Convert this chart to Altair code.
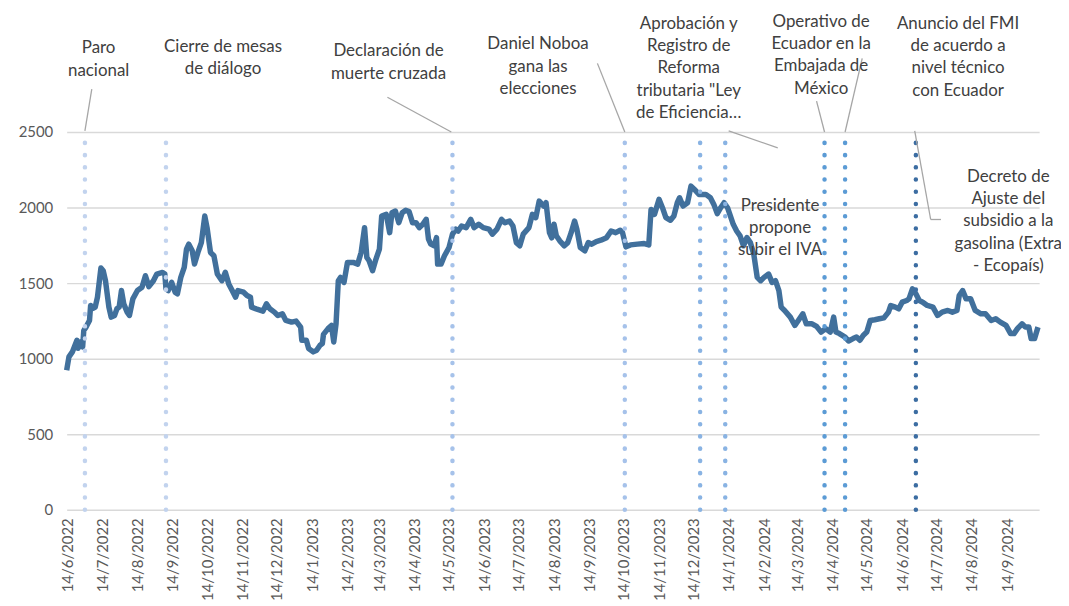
import altair as alt
import pandas as pd

# ---- data ----
START = "2022-06-14"
DAYS = [-1, 1, 4, 8, 9, 11, 13, 14, 16, 19, 20, 22, 24, 26, 29, 31, 33, 36, 38, 41, 43, 45, 47, 49, 52, 54, 57, 61, 65, 68,
        71, 75, 78, 83, 85, 86, 88, 91, 94, 96, 99, 102, 104, 106, 109, 111, 114, 117, 120, 122, 125, 128, 131, 135, 138,
        141, 144, 147, 149, 154, 157, 160, 161, 165, 171, 174, 177, 181, 184, 188, 191, 196, 200, 204, 205, 209, 211, 215,
        218, 221, 223, 224, 228, 231, 233, 235, 237, 239, 242, 245, 250, 254, 257, 260, 262, 264, 267, 270, 273, 275, 279,
        282, 284, 287, 290, 293, 296, 299, 302, 305, 308, 311, 314, 316, 318, 321, 323, 324, 327, 330, 334, 337, 340, 342,
        345, 349, 353, 356, 360, 364, 369, 372, 376, 380, 383, 387, 390, 393, 396, 399, 404, 407, 410, 413, 417, 419, 422,
        424, 426, 428, 431, 435, 438, 441, 444, 446, 449, 453, 456, 459, 463, 467, 472, 476, 480, 484, 486, 489, 493, 499,
        505, 509, 511, 514, 518, 521, 524, 528, 531, 534, 536, 539, 543, 546, 549, 553, 559, 563, 566, 569, 572, 575, 578,
        581, 583, 586, 589, 592, 595, 598, 601, 604, 607, 610, 614, 617, 620, 623, 625, 628, 633, 637, 640, 644, 647, 652,
        656, 660, 664, 668, 671, 673, 676, 681, 684, 688, 691, 694, 697, 700, 703, 707, 711, 715, 719, 721, 725, 728, 731,
        735, 737, 740, 743, 746, 749, 753, 758, 762, 766, 771, 775, 779, 781, 784, 787, 791, 795, 800, 804, 809, 813, 817,
        822, 826, 829, 832, 836, 839, 842, 844, 847, 850]
PRICE = [924, 1012, 1045, 1122, 1069, 1110, 1078, 1187, 1209, 1253, 1352, 1332, 1341, 1407, 1600, 1582, 1516, 1341, 1275,
         1286, 1330, 1341, 1451, 1363, 1308, 1286, 1396, 1451, 1473, 1549, 1477, 1516, 1560, 1571, 1560, 1462, 1451, 1505,
         1440, 1429, 1538, 1604, 1725, 1758, 1714, 1626, 1703, 1768, 1944, 1867, 1703, 1681, 1560, 1516, 1571, 1495, 1451,
         1407, 1451, 1440, 1418, 1407, 1341, 1330, 1315, 1363, 1330, 1308, 1286, 1297, 1253, 1242, 1249, 1209, 1122, 1122,
         1067, 1045, 1056, 1089, 1100, 1161, 1199, 1220, 1111, 1231, 1516, 1538, 1505, 1637, 1637, 1626, 1703, 1867, 1670,
         1648, 1582, 1659, 1725, 1944, 1955, 1834, 1966, 1977, 1900, 1966, 1982, 1973, 1900, 1900, 1867, 1889, 1922, 1791,
         1758, 1747, 1801, 1626, 1626, 1681, 1736, 1824, 1857, 1845, 1878, 1867, 1922, 1867, 1889, 1867, 1857, 1824, 1857,
         1922, 1900, 1911, 1878, 1768, 1747, 1824, 1867, 1955, 1933, 2043, 2010, 2032, 1834, 1800, 1890, 1813, 1780, 1747,
         1768, 1834, 1911, 1857, 1736, 1714, 1768, 1758, 1775, 1784, 1801, 1845, 1834, 1850, 1834, 1740, 1753, 1758, 1762,
         1753, 1988, 1955, 2054, 1999, 1933, 1916, 1944, 2032, 2065, 2010, 2032, 2142, 2120, 2087, 2087, 2065, 2021, 1960,
         1999, 2032, 1999, 1933, 1889, 1845, 1813, 1747, 1801, 1768, 1692, 1538, 1516, 1538, 1560, 1505, 1516, 1451, 1341,
         1319, 1275, 1220, 1253, 1297, 1231, 1231, 1214, 1176, 1199, 1176, 1275, 1176, 1166, 1143, 1117, 1133, 1143, 1122,
         1155, 1176, 1253, 1258, 1264, 1270, 1308, 1352, 1341, 1330, 1374, 1385, 1396, 1462, 1429, 1385, 1374, 1352, 1341,
         1286, 1308, 1319, 1308, 1319, 1418, 1451, 1396, 1396, 1319, 1297, 1297, 1253, 1264, 1242, 1220, 1166, 1166, 1199,
         1231, 1209, 1209, 1133, 1133, 1209]

TICK_LABELS = ["14/6/2022", "14/7/2022", "14/8/2022", "14/9/2022", "14/10/2022", "14/11/2022", "14/12/2022",
               "14/1/2023", "14/2/2023", "14/3/2023", "14/4/2023", "14/5/2023", "14/6/2023", "14/7/2023",
               "14/8/2023", "14/9/2023", "14/10/2023", "14/11/2023", "14/12/2023", "14/1/2024", "14/2/2024",
               "14/3/2024", "14/4/2024", "14/5/2024", "14/6/2024", "14/7/2024", "14/8/2024", "14/9/2024"]
Y_TICKS = [0, 500, 1000, 1500, 2000, 2500]

EVENT_DATES = ["2022-06-29", "2022-09-08", "2023-05-17", "2023-10-15", "2023-12-20", "2024-01-11",
               "2024-04-07", "2024-04-25", "2024-06-26"]
EVENT_COLORS = ["#C2D3EE", "#C2D3EE", "#A6C2EA", "#A6C2EA", "#89B3E3", "#89B3E3",
                "#5B9BD5", "#5B9BD5", "#3C6DA2"]

ANN_TEXT = ["Paro\nnacional", "Cierre de mesas\nde diálogo", "Declaración de\nmuerte cruzada",
            "Daniel Noboa\ngana las\nelecciones",
            "Aprobación y\nRegistro de\nReforma\ntributaria \"Ley\nde Eficiencia…",
            "Operativo de\nEcuador en la\nEmbajada de\nMéxico",
            "Anuncio del FMI\nde acuerdo a\nnivel técnico\ncon Ecuador",
            "Presidente\npropone\nsubir el IVA",
            "Decreto de\nAjuste del\nsubsidio a la\ngasolina (Extra\n- Ecopaís)"]
ANN_DATE = ["2022-07-11", "2022-10-28", "2023-03-22", "2023-07-31", "2023-12-10", "2024-04-04",
            "2024-08-02", "2024-02-28", "2024-09-15"]
ANN_TOP = [3105, 3118, 3086, 3132, 3270, 3283, 3270, 2066, 2257]

LEAD_X1 = ["2022-07-05", "2023-03-21", "2023-09-21", "2024-01-14", "2024-03-31", "2024-05-10", "2024-06-25", "2024-07-09"]
LEAD_Y1 = [2783, 2730, 2954, 2507, 2704, 2987, 2507, 1921]
LEAD_X2 = ["2022-06-29", "2023-05-16", "2023-10-15", "2024-02-26", "2024-04-07", "2024-04-25", "2024-07-09", "2024-07-18"]
LEAD_Y2 = [2507, 2500, 2500, 2395, 2500, 2500, 1921, 1921]

# ---- tables ----
series = pd.DataFrame({
    "date": pd.Timestamp(START) + pd.to_timedelta(DAYS, unit="D"),
    "value": PRICE,
})
events = pd.DataFrame({"date": pd.to_datetime(EVENT_DATES), "color": EVENT_COLORS})
notes = pd.DataFrame({"date": pd.to_datetime(ANN_DATE), "top": ANN_TOP, "label": ANN_TEXT})
leads = pd.DataFrame({"date": pd.to_datetime(LEAD_X1), "y1": LEAD_Y1,
                      "x2": pd.to_datetime(LEAD_X2), "y2": LEAD_Y2})

tick_values = []
for t in TICK_LABELS:
    d, m, y = (int(p) for p in t.split("/"))
    tick_values.append(alt.DateTime(year=y, month=m, date=d))

FONT = "Lato"
xscale = alt.Scale(domain=[alt.DateTime(year=2022, month=6, date=13),
                           alt.DateTime(year=2024, month=10, date=12)])
yscale = alt.Scale(domain=[0, 2500], nice=False)
xaxis = alt.Axis(values=tick_values, format="%-d/%-m/%Y", labelAngle=270, title=None,
                 labelFontSize=15, labelColor="#595959", labelFont=FONT, labelPadding=8,
                 domain=False, ticks=False, grid=False, labelOverlap=False, labelBound=False,
                 labelFlush=False)
yaxis = alt.Axis(values=Y_TICKS, format="d", title=None, labelFontSize=15, labelColor="#595959",
                 labelFont=FONT, labelPadding=14, domain=False, ticks=False,
                 grid=True, gridColor="#D9D9D9", gridWidth=1.5)

X = alt.X("date:T", scale=xscale, axis=xaxis)

line = alt.Chart(series).mark_line(color="#41709C", strokeWidth=5.5, strokeJoin="round").encode(
    x=X,
    y=alt.Y("value:Q", scale=yscale, axis=yaxis),
)

rules = alt.Chart(events).mark_rule(strokeDash=[0.1, 12.2], strokeCap="round", strokeWidth=4.5).encode(
    x=X,
    y=alt.datum(0, scale=yscale),
    y2=alt.datum(2440),
    color=alt.Color("color:N", scale=None),
)

leaders = alt.Chart(leads).mark_rule(color="#A6A6A6", strokeWidth=1.3).encode(
    x=X, x2="x2:T",
    y=alt.Y("y1:Q", scale=yscale, axis=yaxis), y2="y2:Q",
)

texts = alt.Chart(notes).mark_text(align="center", baseline="top", lineBreak="\n", lineHeight=22.5,
                                   fontSize=17, font=FONT, color="#404040").encode(
    x=X,
    y=alt.Y("top:Q", scale=yscale, axis=yaxis),
    text="label:N",
)

chart = alt.layer(line, rules, leaders, texts).properties(
    width=978, height=380,
    autosize=alt.AutoSizeParams(type="none"),
    padding={"left": 59, "top": 123, "right": 22, "bottom": 92},
).configure_view(stroke=None).configure_axisX(labelOverlap=False)

chart.save("out.html", embed_options={"renderer": "svg", "actions": False})
